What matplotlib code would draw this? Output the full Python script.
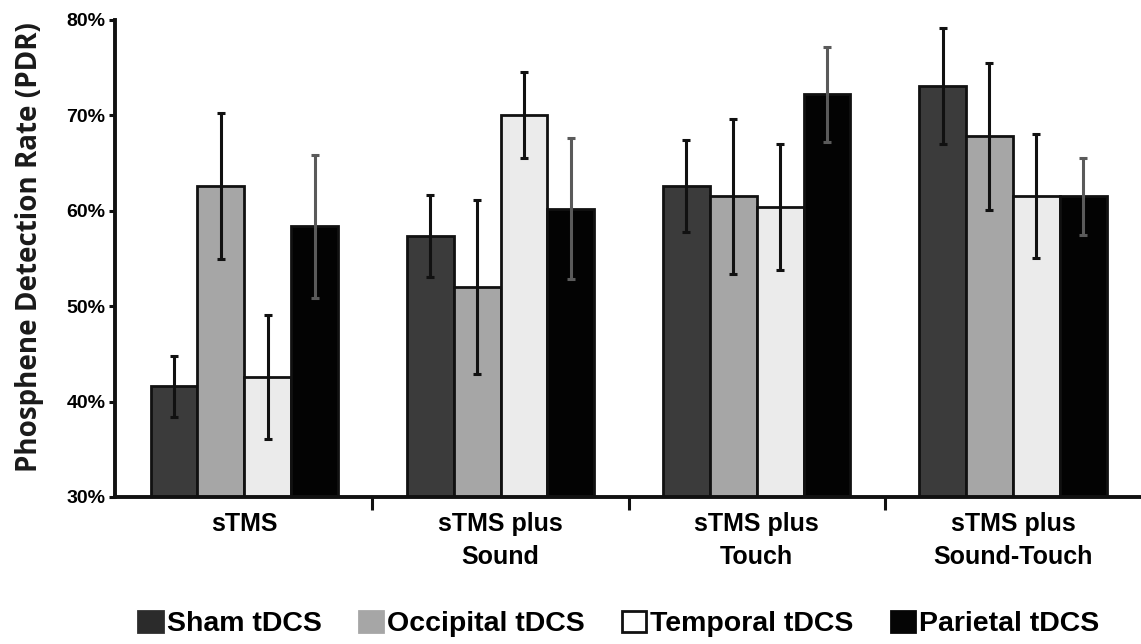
import matplotlib
matplotlib.use("Agg")
import matplotlib.pyplot as plt
import numpy as np
from matplotlib.patches import Patch
from matplotlib.ticker import FixedLocator

# Conditions (x groups) and tDCS montages (series)
conditions = ["sTMS", "sTMS plus\nSound", "sTMS plus\nTouch", "sTMS plus\nSound-Touch"]
series_names = ["Sham tDCS", "Occipital tDCS", "Temporal tDCS", "Parietal tDCS"]

# Mean phosphene detection rate (%) per condition
sham = [41.6, 57.4, 62.6, 73.1]
occipital = [62.6, 52.0, 61.5, 67.8]
temporal = [42.6, 70.0, 60.4, 61.6]
parietal = [58.4, 60.2, 72.2, 61.5]

# Error bar half-lengths (%)
sham_err = [3.2, 4.3, 4.8, 6.1]
occipital_err = [7.6, 9.1, 8.1, 7.7]
temporal_err = [6.5, 4.5, 6.6, 6.5]
parietal_err = [7.5, 7.4, 5.0, 4.0]

y_ticks = [30, 40, 50, 60, 70, 80]
y_tick_labels = ["30%", "40%", "50%", "60%", "70%", "80%"]

means = [sham, occipital, temporal, parietal]
errors = [sham_err, occipital_err, temporal_err, parietal_err]
fills = ["#3b3b3b", "#a6a6a6", "#ebebeb", "#030303"]
err_colors = ["#111111", "#111111", "#111111", "#5a5a5a"]
legend_fills = ["#2b2b2b", "#a6a6a6", "#ffffff", "#050505"]
legend_edges = ["#2b2b2b", "#a6a6a6", "#111111", "#050505"]

fig = plt.figure(figsize=(11.41, 6.44), dpi=100)
ax = fig.add_axes([115 / 1141, 1 - 497 / 644, 1026 / 1141, 477 / 644])

x = np.arange(len(conditions))
bar_w = 0.183
offsets = (np.arange(4) - 1.5) * bar_w

for i in range(4):
    ax.bar(x + offsets[i], np.array(means[i]) - 30, bottom=30, width=bar_w,
           color=fills[i], edgecolor="#111111", linewidth=2.0, zorder=2)
for i in range(4):
    ax.errorbar(x + offsets[i], means[i], yerr=errors[i], fmt="none",
                ecolor=err_colors[i], elinewidth=2.2, capsize=3.2,
                capthick=2.2, zorder=3)

ax.set_xlim(-0.505, 3.5)
ax.set_ylim(30, 80)

ax.spines["top"].set_visible(False)
ax.spines["right"].set_visible(False)
for side in ("left", "bottom"):
    ax.spines[side].set_linewidth(2.8)
    ax.spines[side].set_color("#111111")

ax.set_yticks(y_ticks)
ax.set_yticklabels(y_tick_labels, fontsize=14, fontweight="bold",
                   family="Liberation Sans")
ax.tick_params(axis="y", length=4, width=2.2, pad=3, color="#111111")

ax.set_xticks(x)
ax.set_xticklabels(conditions, fontsize=18, fontweight="bold",
                   family="Liberation Sans", linespacing=1.45)
ax.tick_params(axis="x", which="major", length=0, pad=11)
ax.xaxis.set_minor_locator(FixedLocator([0.5, 1.5, 2.5]))
ax.tick_params(axis="x", which="minor", length=9, width=2.2,
               direction="out", color="#111111")

fig.text(0.026, 1 - 247 / 644, "Phosphene Detection Rate (PDR)",
         rotation=90, ha="center", va="center", fontsize=20,
         fontweight="bold", family="Open Sans", color="#1a1a1a")

handles = [Patch(facecolor=legend_fills[i], edgecolor=legend_edges[i],
                 linewidth=2.0) for i in range(4)]
fig.legend(handles, series_names, loc="center", ncol=4, frameon=False,
           bbox_to_anchor=(619 / 1141, 1 - 624 / 644),
           prop={"family": "Liberation Sans", "weight": "bold", "size": 20.5},
           handlelength=0.85, handleheight=0.8, handletextpad=0.15,
           columnspacing=1.3, borderpad=0)

fig.savefig("out.png", dpi=100)
